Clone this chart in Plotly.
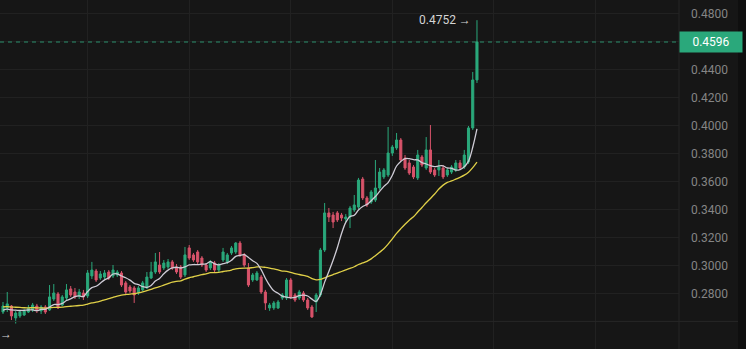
import plotly.graph_objects as go
import pandas as pd

opens = [0.2667, 0.2696, 0.2710, 0.2625, 0.2639, 0.2646, 0.2667, 0.2682, 0.2710, 0.2675,
         0.2703, 0.2682, 0.2760, 0.2796, 0.2717, 0.2767, 0.2832, 0.2810, 0.2782, 0.2803,
         0.2782, 0.2925, 0.2960, 0.2910, 0.2917, 0.2953, 0.2925, 0.2932, 0.2946, 0.2875,
         0.2846, 0.2839, 0.2803, 0.2825, 0.2839, 0.2910, 0.2953, 0.3003, 0.2982, 0.2989,
         0.3025, 0.2989, 0.2989, 0.2932, 0.3125, 0.3075, 0.3096, 0.3053, 0.3003, 0.2982,
         0.3017, 0.2967, 0.3039, 0.3025, 0.3089, 0.3096, 0.3160, 0.3075, 0.2982, 0.2896,
         0.2896, 0.2917, 0.2810, 0.2696, 0.2696, 0.2696, 0.2767, 0.2767, 0.2896, 0.2789,
         0.2767, 0.2803, 0.2753, 0.2703, 0.2739, 0.2789, 0.3110, 0.3375, 0.3360, 0.3375,
         0.3360, 0.3332, 0.3346, 0.3396, 0.3417, 0.3617, 0.3482, 0.3453, 0.3467, 0.3553,
         0.3632, 0.3646, 0.3803, 0.3839, 0.3896, 0.3767, 0.3732, 0.3703, 0.3625, 0.3775,
         0.3696, 0.3825, 0.3682, 0.3682, 0.3696, 0.3646, 0.3667, 0.3682, 0.3732, 0.3703,
         0.3739, 0.3982, 0.4325]

closes = [0.2710, 0.2725, 0.2639, 0.2660, 0.2667, 0.2675, 0.2696, 0.2717, 0.2682, 0.2703,
          0.2667, 0.2775, 0.2803, 0.2696, 0.2775, 0.2825, 0.2789, 0.2775, 0.2810, 0.2775,
          0.2946, 0.2967, 0.2896, 0.2939, 0.2946, 0.2910, 0.2967, 0.2953, 0.2860, 0.2810,
          0.2817, 0.2789, 0.2839, 0.2875, 0.2917, 0.2953, 0.3025, 0.2953, 0.3017, 0.3025,
          0.2982, 0.2953, 0.2917, 0.3075, 0.3053, 0.3039, 0.3025, 0.3003, 0.2967, 0.3025,
          0.2967, 0.3003, 0.3096, 0.3075, 0.3125, 0.3160, 0.3075, 0.3003, 0.2860, 0.2932,
          0.2946, 0.2810, 0.2732, 0.2717, 0.2732, 0.2739, 0.2789, 0.2896, 0.2775, 0.2753,
          0.2810, 0.2753, 0.2696, 0.2632, 0.2789, 0.3110, 0.3375, 0.3346, 0.3310, 0.3325,
          0.3339, 0.3346, 0.3410, 0.3432, 0.3610, 0.3482, 0.3432, 0.3525, 0.3553, 0.3667,
          0.3682, 0.3803, 0.3846, 0.3896, 0.3753, 0.3696, 0.3660, 0.3632, 0.3789, 0.3717,
          0.3825, 0.3667, 0.3646, 0.3703, 0.3632, 0.3682, 0.3703, 0.3732, 0.3696, 0.3789,
          0.3982, 0.4325, 0.4596]

highs = [0.2739, 0.2810, 0.2717, 0.2675, 0.2682, 0.2689, 0.2717, 0.2732, 0.2725, 0.2717,
         0.2717, 0.2860, 0.2867, 0.2810, 0.2789, 0.2867, 0.2853, 0.2839, 0.2832, 0.2825,
         0.2967, 0.3025, 0.2975, 0.2960, 0.2967, 0.2967, 0.3003, 0.2967, 0.2960, 0.2889,
         0.2860, 0.2853, 0.2853, 0.2889, 0.2953, 0.3025, 0.3089, 0.3096, 0.3039, 0.3046,
         0.3039, 0.3010, 0.3003, 0.3132, 0.3146, 0.3089, 0.3110, 0.3067, 0.3017, 0.3039,
         0.3032, 0.3017, 0.3125, 0.3089, 0.3139, 0.3167, 0.3175, 0.3089, 0.3017, 0.2946,
         0.2960, 0.2932, 0.2825, 0.2732, 0.2746, 0.2753, 0.2803, 0.2910, 0.2910, 0.2803,
         0.2825, 0.2817, 0.2767, 0.2717, 0.2803, 0.3125, 0.3446, 0.3410, 0.3382, 0.3389,
         0.3375, 0.3367, 0.3425, 0.3503, 0.3625, 0.3632, 0.3496, 0.3539, 0.3753, 0.3696,
         0.3696, 0.3989, 0.3860, 0.3946, 0.3910, 0.3789, 0.3753, 0.3717, 0.3825, 0.3789,
         0.3917, 0.4003, 0.3696, 0.3753, 0.3717, 0.3696, 0.3717, 0.3753, 0.3753, 0.3825,
         0.3996, 0.4382, 0.4752]

lows = [0.2653, 0.2667, 0.2610, 0.2585, 0.2625, 0.2639, 0.2660, 0.2667, 0.2660, 0.2653,
        0.2653, 0.2675, 0.2746, 0.2689, 0.2710, 0.2753, 0.2775, 0.2760, 0.2760, 0.2753,
        0.2767, 0.2903, 0.2882, 0.2896, 0.2903, 0.2896, 0.2910, 0.2917, 0.2846, 0.2796,
        0.2803, 0.2732, 0.2789, 0.2817, 0.2832, 0.2903, 0.2939, 0.2939, 0.2967, 0.2975,
        0.2967, 0.2939, 0.2903, 0.2917, 0.3039, 0.3025, 0.3010, 0.2989, 0.2953, 0.2967,
        0.2953, 0.2953, 0.3025, 0.3010, 0.3075, 0.3082, 0.3060, 0.2989, 0.2846, 0.2882,
        0.2889, 0.2796, 0.2682, 0.2675, 0.2682, 0.2689, 0.2753, 0.2753, 0.2760, 0.2739,
        0.2753, 0.2739, 0.2682, 0.2625, 0.2667, 0.2775, 0.3096, 0.3310, 0.3267, 0.3310,
        0.3317, 0.3310, 0.3267, 0.3382, 0.3403, 0.3467, 0.3417, 0.3439, 0.3453, 0.3539,
        0.3617, 0.3632, 0.3782, 0.3825, 0.3739, 0.3682, 0.3646, 0.3617, 0.3610, 0.3703,
        0.3682, 0.3653, 0.3632, 0.3639, 0.3617, 0.3632, 0.3653, 0.3667, 0.3682, 0.3689,
        0.3725, 0.3967, 0.4303]

# closes before the visible window (needed only to warm up the moving averages)
prior_closes = [0.2705, 0.2722, 0.2698, 0.2715, 0.2731, 0.2708, 0.2690, 0.2712, 0.2726, 0.2703,
                0.2689, 0.2717, 0.2734, 0.2710, 0.2695, 0.2721, 0.2706, 0.2728, 0.2713, 0.2699,
                0.2716, 0.2738, 0.2702, 0.2668, 0.2680, 0.2672, 0.2685, 0.2664, 0.2681]

y_ticks = [0.28, 0.30, 0.32, 0.34, 0.36, 0.38, 0.40, 0.42, 0.44, 0.46, 0.48]
y_tick_labels = ["0.2800", "0.3000", "0.3200", "0.3400", "0.3600", "0.3800",
                 "0.4000", "0.4200", "0.4400", "", "0.4800"]
time_grid = [20, 44, 68, 92, 116, 140]

UP = "#2aa87b"
DOWN = "#d8536a"
BG = "#161616"
GRID = "#212121"

x = list(range(len(closes)))
series = pd.Series(prior_closes + closes)
n0 = len(prior_closes)
ma7 = series.rolling(7).mean().iloc[n0:].tolist()
ma30 = series.rolling(30).mean().iloc[n0:].tolist()
last_price = closes[-1]
hi_idx = max(range(len(highs)), key=lambda i: highs[i])
lo_idx = min(range(len(lows)), key=lambda i: lows[i])

fig = go.Figure()
fig.add_trace(go.Candlestick(
    x=x, open=opens, high=highs, low=lows, close=closes,
    increasing=dict(line=dict(color=UP, width=1), fillcolor=UP),
    decreasing=dict(line=dict(color=DOWN, width=1), fillcolor=DOWN),
    whiskerwidth=0, hoverinfo="skip"))
fig.add_trace(go.Scatter(x=x, y=ma30, mode="lines",
                         line=dict(color="#e0d048", width=1.3, shape="spline"),
                         hoverinfo="skip"))
fig.add_trace(go.Scatter(x=x, y=ma7, mode="lines",
                         line=dict(color="#cfccd6", width=1.3, shape="spline"),
                         hoverinfo="skip"))

W, H = 746, 349
plot_w = 679
fig.update_layout(
    width=W, height=H,
    margin=dict(l=0, r=W - plot_w, t=0, b=0),
    paper_bgcolor=BG, plot_bgcolor=BG,
    showlegend=False,
    font=dict(family="Roboto, Arial, sans-serif", size=12, color="#8a8a8a"),
    xaxis=dict(range=[-0.71, 159.74], tickvals=time_grid, showticklabels=False,
               showgrid=True, gridcolor=GRID, gridwidth=1, zeroline=False,
               showline=False, ticks="", rangeslider=dict(visible=False)),
    yaxis=dict(side="right", range=[0.2403, 0.4896], tickvals=y_ticks,
               ticktext=y_tick_labels, showgrid=True, gridcolor=GRID,
               zeroline=False, showline=False, ticks="",
               ticklabelstandoff=11,
               tickfont=dict(size=12, color="#858585", family="Roboto")),
)

# current price dashed line
fig.add_shape(type="line", xref="paper", yref="y", x0=0, x1=1,
              y0=last_price, y1=last_price,
              line=dict(color="#2a8f6c", width=1, dash="4px,4px"))
# separator between plot and price scale
fig.add_shape(type="line", xref="paper", yref="paper", x0=1, x1=1, y0=0, y1=1,
              line=dict(color="#242424", width=1))
# bottom pane border
fig.add_shape(type="line", xref="paper", yref="y", x0=0, x1=738 / plot_w,
              y0=0.26, y1=0.26, line=dict(color="#262626", width=1))
# right dark strip
fig.add_shape(type="rect", xref="paper", yref="paper", x0=738 / plot_w,
              x1=W / plot_w, y0=0, y1=1, fillcolor="#0f0f0f", line=dict(width=0),
              layer="above")

# price label box
fig.add_annotation(xref="paper", yref="y", x=1, y=last_price,
                   text=f"{last_price:.4f}", showarrow=False,
                   xanchor="left", yanchor="middle", bgcolor=UP,
                   font=dict(color="#ffffff", size=12, family="Roboto"),
                   width=60, height=18, borderpad=1, align="center")
fig.add_shape(type="line", xref="paper", yref="y", x0=1.002, x1=1.009,
              y0=last_price, y1=last_price, line=dict(color="#ffffff", width=1))

# high / low markers
fig.add_annotation(x=hi_idx, y=highs[hi_idx], text=f"{highs[hi_idx]:.4f} →",
                   showarrow=False, xanchor="right", yanchor="middle", xshift=-4,
                   font=dict(color="#d4d4d4", size=12, family="Roboto"))
fig.add_annotation(x=lo_idx, y=lows[lo_idx], text="→",
                   showarrow=False, xanchor="right", yanchor="middle", xshift=-2,
                   yshift=-10, font=dict(color="#d4d4d4", size=12, family="Roboto"))

fig.write_html("out.html", config={"displayModeBar": False})
